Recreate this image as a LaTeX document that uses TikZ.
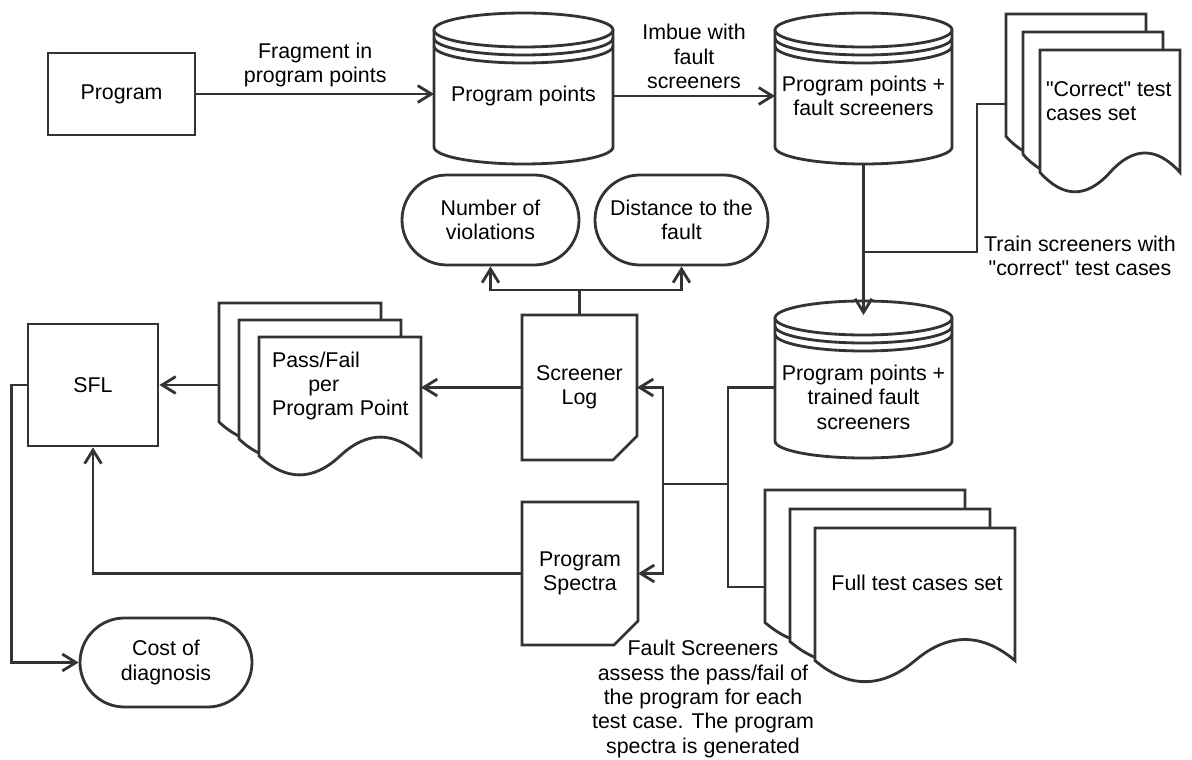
\documentclass[tikz,border=0pt]{standalone}
\usepackage{fontspec}
\setmainfont{Liberation Sans}[Ligatures=TeXOff]
\usetikzlibrary{arrows.meta,shapes.misc,calc}

\definecolor{linegray}{HTML}{333333}
\newlength{\pxu}\setlength{\pxu}{0.025cm}
\newcommand{\diafont}{\fontsize{15.2pt}{17.4pt}\selectfont}

\tikzset{
    shape line/.style={draw=linegray, line width=2pt},
    conn/.style={shape line},
    arr/.style={conn, -{Straight Barb[length=3.4mm,width=4.2mm]}},
    txt/.style={align=center, inner sep=0, outer sep=0, font=\diafont},
    lbl/.style={align=center, inner sep=4pt, font=\diafont},
    sqbox/.style={shape line, align=center, font=\diafont},
    cutbox/.style={align=center, inner sep=0, outer sep=0, font=\diafont},
    term/.style={rounded rectangle, shape line, align=center, inner sep=0,
        minimum height=90*\pxu, font=\diafont},
}

% datastore: left, right, top, bottom, name
\newcommand{\datastore}[5]{%
    \draw[shape line, fill=white] (#1,#3+17) -- (#1,#4-17)
        arc[start angle=180, end angle=0, x radius={(#2-#1)/2}, y radius=17] -- (#2,#3+17);
    \draw[shape line, fill=white] ({(#1+#2)/2},#3+17) ellipse[x radius={(#2-#1)/2}, y radius=17];
    \draw[shape line] (#1,#3+25) arc[start angle=180, end angle=0, x radius={(#2-#1)/2}, y radius=17];
    \draw[shape line] (#1,#3+33) arc[start angle=180, end angle=0, x radius={(#2-#1)/2}, y radius=17];
    \coordinate (#5 in) at ({(#1+#2)/2},#3+14);
    \coordinate (#5 out) at ({(#1+#2)/2},#4);
}

% one page with a wavy foot: left, top, width, height
\newcommand{\docpage}[4]{%
    \draw[shape line, fill=white] (#1,#2) -- ({#1+#3},#2) -- ({#1+#3},{#2+0.85*#4})
        .. controls ({#1+5*#3/6},{#2+0.67*#4}) and ({#1+2*#3/3},{#2+0.67*#4}) .. ({#1+#3/2},{#2+0.85*#4})
        .. controls ({#1+#3/3},{#2+1.03*#4}) and ({#1+#3/6},{#2+1.03*#4}) .. (#1,{#2+0.85*#4}) -- cycle;
}

% stack of three pages: name, left, top, width, height, dx, dy
\newcommand{\docstack}[7]{%
    \docpage{#2}{#3}{#4}{#5}
    \docpage{#2+#6}{#3+#7}{#4}{#5}
    \docpage{#2+2*#6}{#3+2*#7}{#4}{#5}
    \coordinate (#1 in) at (#2,{#3+(#5+2*#7)/2});
    \coordinate (#1 out) at ({#2+2*#6+#4},{#3+(#5+2*#7)/2});
}

% card with the lower right corner cut off
\newcommand{\cutcorner}[1]{%
    \draw[shape line] (#1.north west) -- (#1.north east) -- ($(#1.south east)+(0,-24)$)
        -- ($(#1.south east)+(-24,0)$) -- (#1.south west) -- cycle;
}

\begin{document}
\begin{tikzpicture}[x=0.025cm, y=-0.025cm]
    \useasboundingbox (0,0) rectangle (1192,760);

    % Data stores
    \datastore{434}{613}{13}{164}{pp}
    \datastore{775}{952}{13}{164}{ps}
    \datastore{775}{952}{301}{458}{pt}
    \node[txt, minimum width=179*\pxu] (pp) at (523.5,96) {Program points};
    \node[txt, minimum width=177*\pxu] (ps) at (863.5,96) {Program points +\\fault screeners};
    \node[txt, minimum width=177*\pxu] (pt) at (863.5,397) {Program points +\\trained fault\\screeners};

    % Test case sets
    \docstack{cts}{1006}{14}{140}{144}{17}{18}
    \docstack{pf}{219}{303}{162}{140}{20}{17}
    \docstack{fts}{765}{490}{200}{156}{25}{19}
    \node[txt, align=left, anchor=west] (cts) at (1046,101) {"Correct" test\\cases set};
    \node[txt, align=left, anchor=west] (pf) at (272,386) {Pass/Fail\\\hspace*{1.7em}per\\Program Point};
    \node[txt] (fts) at (917,583) {Full test cases set};

    % Boxes
    \node[sqbox, minimum width=147*\pxu, minimum height=82*\pxu] (prog) at (121.5,94) {Program};
    \node[sqbox, minimum width=130*\pxu, minimum height=122*\pxu] (sfl) at (93,385) {SFL};
    \node[cutbox, minimum width=115*\pxu, minimum height=145*\pxu] (sl) at (579.5,387.5) {Screener\\Log};
    \node[cutbox, minimum width=116*\pxu, minimum height=143*\pxu] (spec) at (580,573.5) {Program\\Spectra};
    \cutcorner{sl}
    \cutcorner{spec}

    % Results
    \node[term, minimum width=177*\pxu] (nv) at (490.5,220) {Number of\\violations};
    \node[term, minimum width=173*\pxu] (dist) at (681.5,220) {Distance to the\\fault};
    \node[term, minimum width=172*\pxu, minimum height=89*\pxu] (cost) at (166,662.5) {Cost of\\diagnosis};

    % Top row
    \draw[arr] (prog) -- (prog.east -| pp.west)
        node[lbl, midway, above] (frag) {Fragment in\\program points};
    \draw[arr] (pp.east) -- (ps.west)
        node[lbl, midway, above] (imbue) {Imbue with\\fault\\screeners};

    % Training
    \coordinate (train) at (863.5,252);
    \draw[conn] (cts in) -- ++(-29,0) |- (train);
    \draw[arr] (ps out) -- (pt in);
    \node[txt] (trainlbl) at (1080,256) {Train screeners with\\"correct" test cases};

    % Running the test cases
    \coordinate (fork) at (728,484);
    \draw[conn] (pt.west |- sl.east) -| (fork);
    \draw[conn] (fork) |- (fts in);
    \draw[arr] (fork) -- ++(-65,0) |- (sl.east);
    \draw[arr] (fork) -- ++(-65,0) |- (spec.east);
    \node[txt] (assess) at (703,699) {Fault Screeners\\assess the pass/fail of\\the program for each\\test case. The program\\spectra is generated};

    % Screener log
    \draw[arr] (sl.north) -- ++(0,-25) -| (nv.south);
    \draw[arr] (sl.north) -- ++(0,-25) -| (dist.south);
    \draw[arr] (sl.west) -- (sl.west -| pf out);
    \draw[arr] (pf in |- sfl.east) -- (sfl.east);

    % Diagnosis
    \draw[arr] (spec.west) -| (sfl.south);
    \draw[arr] (sfl.west) -- ++(-15,0) |- (cost.west);
\end{tikzpicture}
\end{document}
